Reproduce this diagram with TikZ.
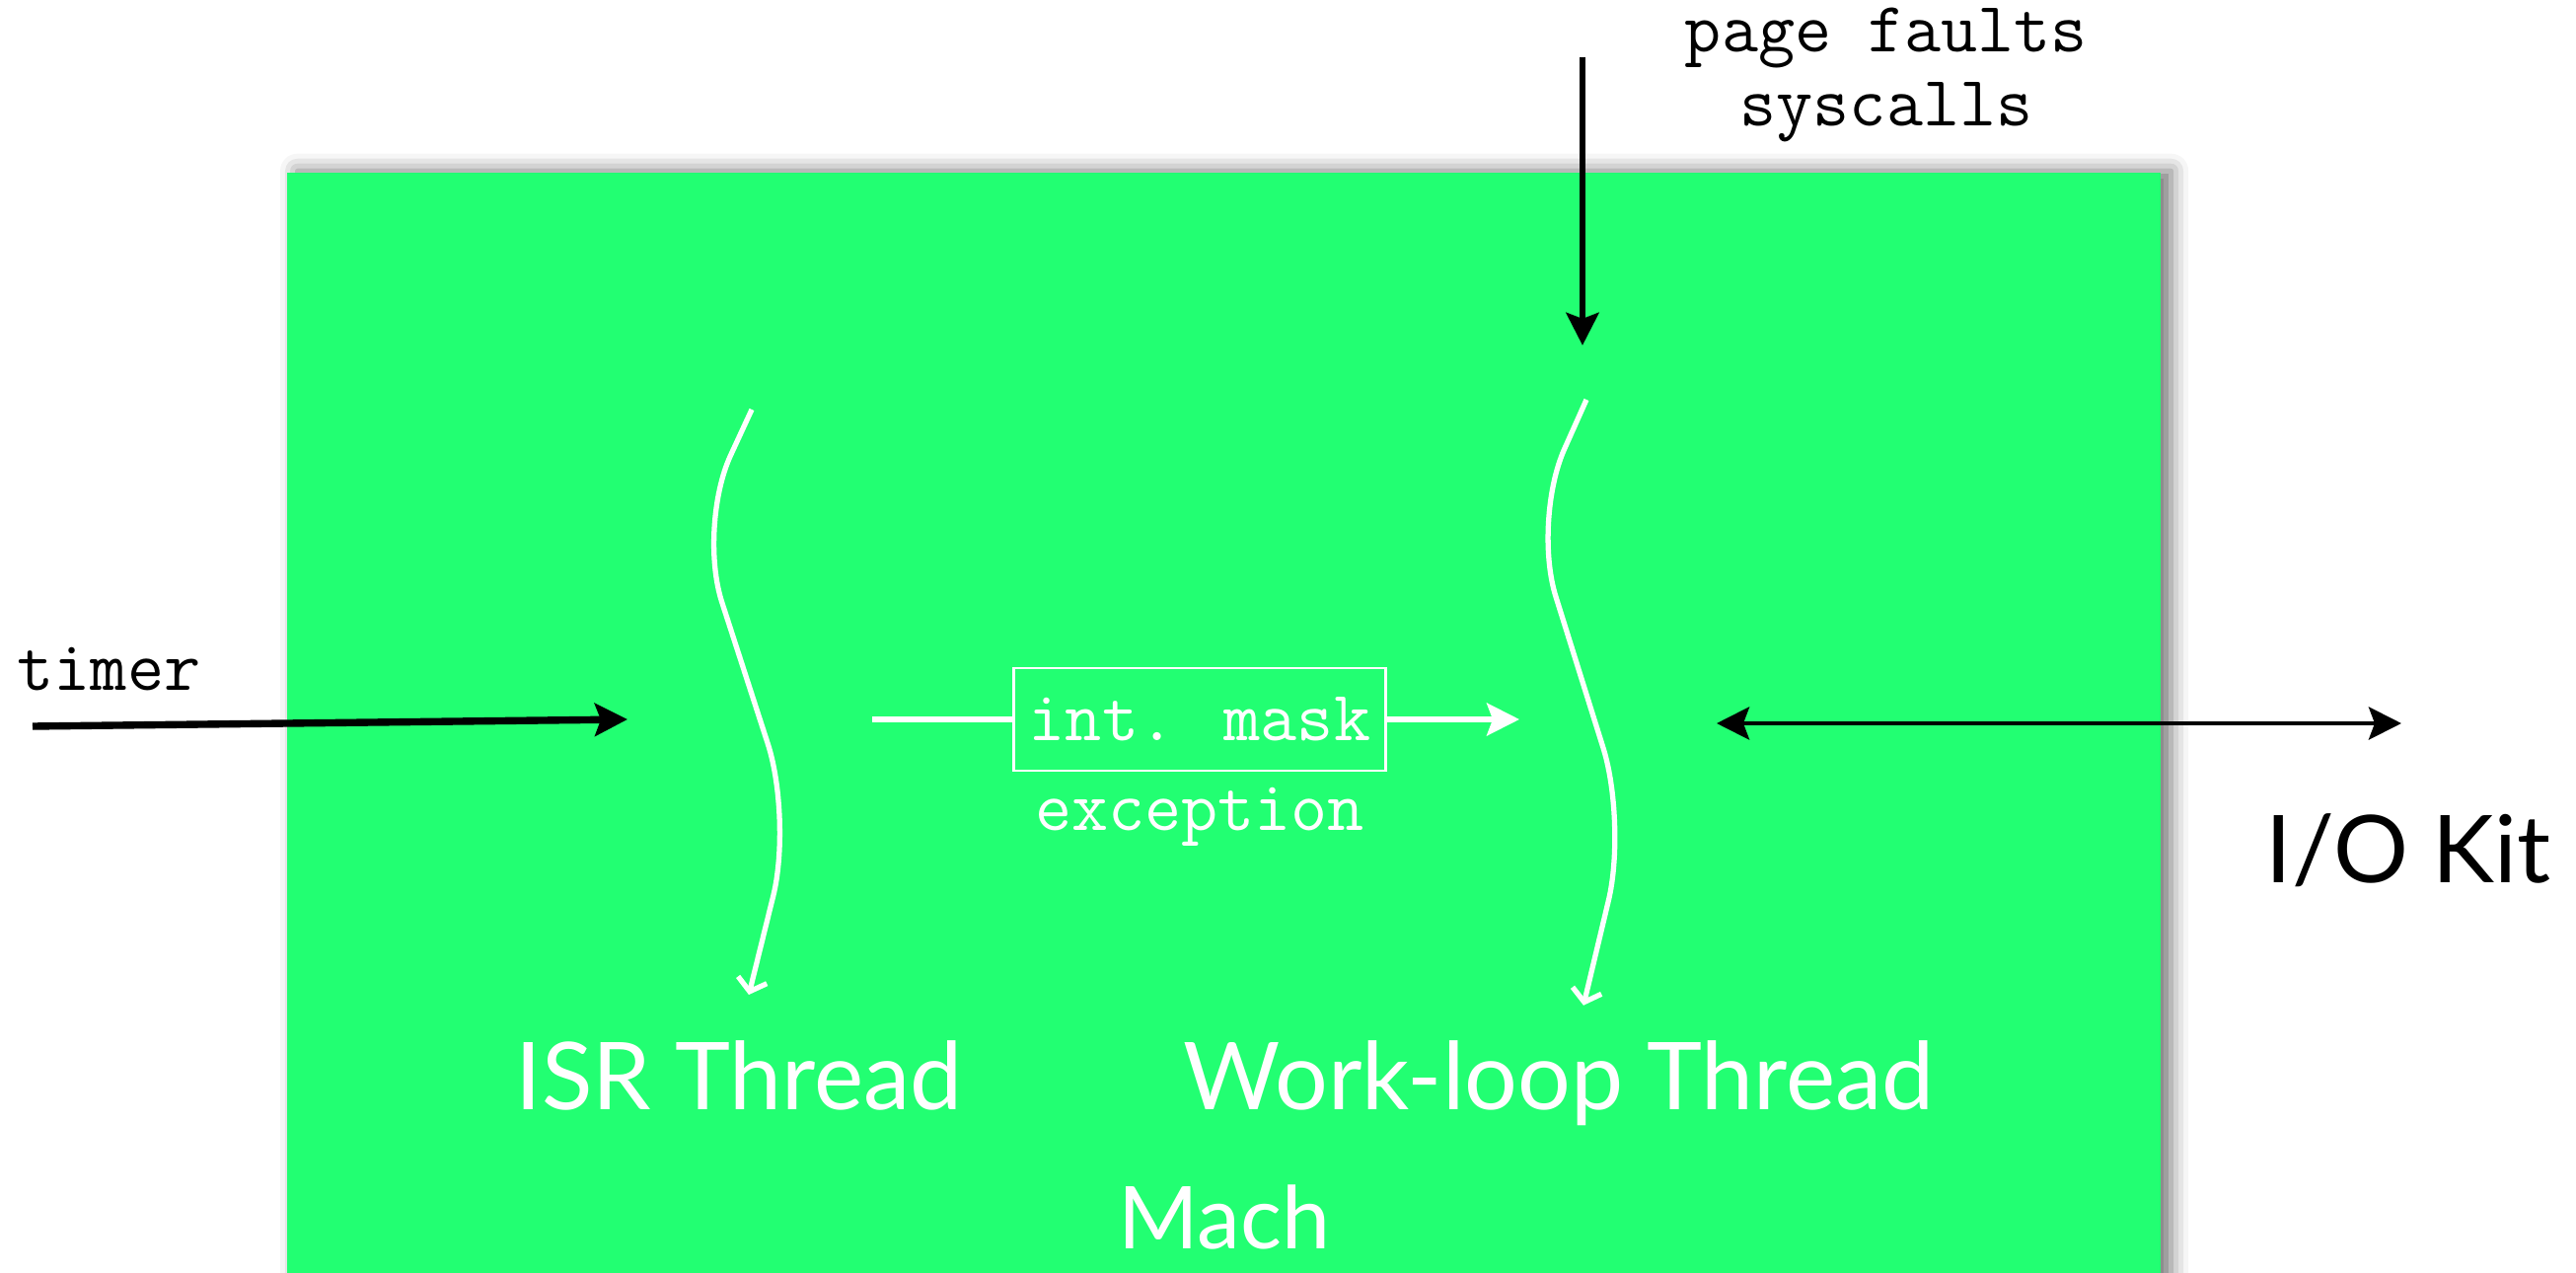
\documentclass[tikz,border=0pt]{standalone}
\usepackage{fontspec}
\setmainfont{Lato}
\usetikzlibrary{arrows.meta,shadows.blur}
\definecolor{machgreen}{RGB}{34,255,114}

\begin{document}
\begin{tikzpicture}[
	big/.style={inner sep=0pt,font=\fontsize{27}{32}\selectfont},
	mono/.style={inner sep=0pt,align=center,font=\ttfamily\fontsize{20.5}{21.6}\selectfont},
	maskbox/.style={mono,draw=white,line width=0.8pt,text=white,minimum width=3.77cm,minimum height=1.04cm},
	thread/.style={white,line width=1.5pt,rounded corners=0.8cm,-{Straight Barb[length=0.12cm,width=0.3cm]}},
	event/.style={black,line width=1.9pt,-{Stealth[length=0.33cm,width=0.33cm,inset=0.06cm]}}
	]
		\useasboundingbox (0,0) rectangle (26.11,12.89);
		% Mach
		\fill[machgreen,blur shadow={shadow xshift=3pt,shadow yshift=0.5pt,shadow blur radius=5pt,shadow opacity=55}] (2.91,-0.5) rectangle (21.9,11.14);
		\node[big,text=white,anchor=base,font=\fontsize{25}{30}\selectfont] (mach) at (12.41,0.24) {Mach};
		% threads
		\foreach \x/\y/\s in {7.62/8.74/1, 16.08/8.84/1.035}
			\draw[thread] (\x,\y) -- ++(-0.55,-1.19*\s) -- ++(0.96,-2.96*\s) -- ++(-0.44,-1.78*\s);
		\node[big,text=white,anchor=base] (isr) at (7.49,1.65) {ISR Thread};
		\node[big,text=white,anchor=base] (workloop) at (15.80,1.65) {Work-loop Thread};
		% page faults
		\node[mono] (faults) at (19.12,12.13) {page faults\\syscalls};
		\coordinate (faultsfrom) at (16.04,12.31);
		\coordinate (faultsto) at (16.04,9.39);
		\draw[event] (faultsfrom) -- (faultsto);
		% timer
		\node[mono,anchor=base west] (timer) at (0.17,5.90) {timer};
		\coordinate (timerfrom) at (0.33,5.53);
		\coordinate (timerto) at (6.36,5.60);
		\draw[event,line width=2.1pt] (timerfrom) -- (timerto);
		% int. mask
		\coordinate (maskfrom) at (8.84,5.60);
		\node[maskbox] (mask) at (12.16,5.60) {int. mask};
		\coordinate (maskto) at (15.40,5.60);
		\draw[white,line width=1.5pt] (maskfrom) -- (mask);
		\draw[event,white,line width=1.5pt] (mask) -- (maskto);
		\node[mono,text=white,anchor=base] (exception) at (12.16,4.48) {exception};
		% I/O Kit
		\coordinate (kitfrom) at (17.40,5.56);
		\coordinate (kitto) at (24.34,5.56);
		\draw[event,line width=1.4pt,{Stealth[length=0.33cm,width=0.33cm,inset=0.06cm]}-{Stealth[length=0.33cm,width=0.33cm,inset=0.06cm]}] (kitfrom) -- (kitto);
		\node[big,anchor=base] (iokit) at (24.41,3.95) {I/O Kit};
\end{tikzpicture}
\end{document}
